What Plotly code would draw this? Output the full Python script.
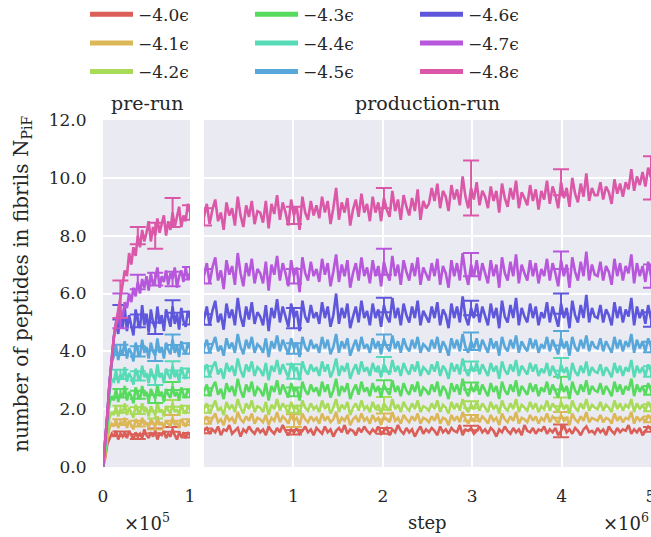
import numpy as np
import plotly.graph_objects as go

labels = ["\u22124.0\u03f5", "\u22124.1\u03f5", "\u22124.2\u03f5", "\u22124.3\u03f5", "\u22124.4\u03f5",
          "\u22124.5\u03f5", "\u22124.6\u03f5", "\u22124.7\u03f5", "\u22124.8\u03f5"]
colors = ["#db5f57", "#dbb757", "#a8db57", "#57db5f", "#57dbb7",
          "#57a7db", "#5f57db", "#b757db", "#db57a7"]

# ---------------- pre-run (0 .. 1e5 steps) ----------------
red_pre = [0,0.3,0.8,1.0,1.15,1.05,1.25,0.95,1.15,1.05,1.20,1.00,1.25,1.10,0.95,1.20,1.05,1.15,1.00,1.30,1.10,1.00,1.20,1.05,1.25,0.95,1.15,1.10,1.25,1.00,1.15,1.05,1.30,1.10,0.95,1.20,1.05,1.15,1.00,1.20,1.10]
orange_pre = [0,0.4,1.0,1.35,1.50,1.40,1.65,1.35,1.55,1.45,1.70,1.35,1.60,1.45,1.30,1.65,1.50,1.40,1.70,1.45,1.55,1.35,1.65,1.50,1.40,1.75,1.45,1.55,1.35,1.60,1.50,1.40,1.70,1.45,1.55,1.35,1.65,1.50,1.40,1.60,1.55]
yg_pre = [0,0.5,1.2,1.7,1.90,1.80,2.10,1.75,2.00,1.85,2.20,1.80,2.05,1.90,1.70,2.15,1.95,1.85,2.20,1.90,2.05,1.75,2.10,1.95,1.80,2.25,1.90,2.00,1.75,2.10,1.95,1.85,2.20,1.90,2.00,1.80,2.15,1.95,1.85,2.10,2.00]
green_pre = [0,0.6,1.5,2.2,2.45,2.30,2.70,2.25,2.55,2.40,2.80,2.30,2.60,2.45,2.20,2.75,2.50,2.35,2.80,2.45,2.60,2.25,2.70,2.50,2.35,2.85,2.45,2.60,2.25,2.70,2.50,2.40,2.80,2.45,2.60,2.30,2.75,2.50,2.40,2.70,2.55]
teal_pre = [0,0.7,1.7,2.6,3.0,2.95,3.35,2.90,3.20,3.05,3.45,2.95,3.25,3.10,2.85,3.40,3.15,3.00,3.50,3.10,3.25,2.90,3.40,3.15,3.00,3.55,3.10,3.25,2.90,3.40,3.20,3.05,3.50,3.10,3.30,2.95,3.45,3.20,3.05,3.40,3.25]
blue_pre = [0,0.8,1.8,2.9,3.6,3.85,4.20,3.70,4.05,3.90,4.35,3.75,4.10,3.95,3.65,4.30,4.00,3.85,4.40,3.95,4.15,3.75,4.30,4.00,3.85,4.45,3.95,4.15,3.75,4.30,4.05,3.90,4.40,3.95,4.20,3.80,4.35,4.05,3.90,4.30,4.10]
indigo_pre = [0,0.8,1.8,2.9,3.8,4.5,5.00,4.60,5.35,4.80,5.50,4.70,5.25,4.95,4.55,5.45,5.05,4.80,5.60,4.90,5.30,4.65,5.45,5.00,4.80,5.55,4.95,5.25,4.70,5.45,5.10,4.85,5.55,4.95,5.30,4.75,5.50,5.05,4.85,5.40,5.15]
purple_pre = [0,0.8,1.8,2.9,3.8,4.5,4.9,5.1,5.4,5.2,5.7,5.5,6.0,5.7,6.2,5.9,6.4,6.0,6.5,6.2,6.6,6.1,6.7,6.3,6.5,6.9,6.2,6.6,6.4,6.8,6.3,6.7,6.5,6.9,6.2,6.6,6.8,6.4,6.9,6.5,6.7]
pink_pre = [0,0.8,1.8,2.9,3.8,4.5,5.0,5.4,5.8,6.3,6.8,6.6,7.4,7.0,7.6,7.3,8.0,7.6,8.2,7.8,8.1,8.5,7.8,8.3,8.0,8.6,8.1,8.4,8.7,8.0,8.5,8.2,8.8,8.3,8.6,9.0,8.3,8.7,8.5,9.1,8.8]

# ---------------- production-run (0 .. 5e6 steps) ----------------
red_prod = [1.25,1.35,1.15,1.30,1.20,1.40,1.10,1.30,1.25,1.45,1.15,1.25,1.35,1.05,1.30,1.20,1.40,1.25,1.15,1.35,
            1.20,1.30,1.10,1.40,1.25,1.15,1.35,1.20,1.45,1.25,1.10,1.30,1.20,1.35,1.15,1.25,1.40,1.20,1.30,1.10,
            1.35,1.25,1.15,1.40,1.20,1.30,1.05,1.25,1.35,1.20,1.45,1.15,1.30,1.25,1.10,1.35,1.20,1.40,1.25,1.15,
            1.30,1.20,1.40,1.15,1.25,1.35,1.10,1.30,1.20,1.45,1.25,1.15,1.35,1.20,1.30,1.05,1.25,1.40,1.15,1.30,
            1.20,1.35,1.25,1.10,1.40,1.20,1.30,1.15,1.35,1.25,1.20,1.45,1.10,1.30,1.25,1.35,1.15,1.25,1.40,1.20,
            1.30,1.15,1.35,1.25,1.05,1.30,1.20,1.40,1.25,1.15,1.35,1.20,1.30,1.10,1.45,1.25,1.20,1.35,1.15,1.30,
            1.25,1.40,1.15,1.30,1.20,1.35,1.10,1.25,1.45,1.20,1.30,1.15,1.35,1.25,1.10,1.30,1.40,1.20,1.25,1.15,
            1.35,1.20,1.30,1.10,1.40,1.25,1.15,1.35,1.20,1.30,1.25,1.45,1.15,1.30,1.20,1.35,1.10,1.25,1.40,1.30]
orange_prod = [1.60,1.75,1.50,1.70,1.85,1.55,1.65,1.45,1.80,1.60,1.70,1.50,1.90,1.65,1.55,1.75,1.60,1.85,1.50,1.70,
               1.65,1.55,1.80,1.45,1.70,1.60,1.90,1.55,1.75,1.65,1.50,1.80,1.60,1.70,1.45,1.85,1.65,1.55,1.75,1.60,
               1.70,1.50,1.85,1.60,1.75,1.55,1.65,1.90,1.50,1.70,1.60,1.80,1.45,1.65,1.75,1.55,1.85,1.60,1.70,1.50,
               1.80,1.60,1.70,1.45,1.75,1.65,1.55,1.90,1.60,1.70,1.50,1.80,1.65,1.55,1.75,1.60,1.85,1.50,1.70,1.65,
               1.55,1.75,1.60,1.85,1.50,1.70,1.65,1.45,1.80,1.60,1.75,1.55,1.90,1.65,1.50,1.70,1.60,1.80,1.55,1.75,
               1.65,1.50,1.80,1.60,1.70,1.45,1.85,1.65,1.55,1.75,1.60,1.90,1.50,1.70,1.65,1.55,1.80,1.60,1.75,1.50,
               1.70,1.60,1.85,1.55,1.75,1.65,1.50,1.80,1.60,1.70,1.45,1.85,1.65,1.55,1.75,1.60,1.90,1.55,1.70,1.65,
               1.60,1.80,1.55,1.70,1.65,1.50,1.85,1.60,1.75,1.55,1.70,1.65,1.90,1.50,1.75,1.60,1.70,1.55,1.80,1.65]
yg_prod = [2.00,2.20,1.85,2.10,2.30,1.95,2.05,1.80,2.25,2.00,2.15,1.90,2.35,2.05,1.85,2.20,2.00,2.30,1.90,2.10,
           2.05,1.90,2.25,1.80,2.15,2.00,2.35,1.95,2.20,2.05,1.85,2.25,2.00,2.10,1.80,2.30,2.05,1.95,2.20,2.00,
           2.10,1.90,2.30,2.00,2.20,1.85,2.05,2.35,1.90,2.15,2.00,2.25,1.80,2.05,2.20,1.95,2.30,2.00,2.10,1.90,
           2.25,2.00,2.15,1.85,2.20,2.05,1.95,2.35,2.00,2.15,1.90,2.25,2.05,1.95,2.20,2.00,2.30,1.90,2.10,2.05,
           1.95,2.20,2.00,2.30,1.90,2.15,2.05,1.85,2.25,2.00,2.20,1.95,2.35,2.05,1.90,2.15,2.00,2.25,1.95,2.20,
           2.05,1.90,2.25,2.00,2.15,1.85,2.30,2.05,1.95,2.20,2.00,2.35,1.90,2.15,2.05,1.95,2.25,2.00,2.20,1.90,
           2.10,2.00,2.30,1.95,2.20,2.05,1.90,2.25,2.00,2.15,1.85,2.30,2.05,1.95,2.20,2.00,2.35,1.95,2.15,2.05,
           2.00,2.25,1.95,2.15,2.05,1.90,2.30,2.00,2.20,1.95,2.15,2.05,2.35,1.90,2.20,2.00,2.15,1.95,2.25,2.05]
green_prod = [2.60,2.85,2.45,2.75,2.95,2.50,2.70,2.35,2.90,2.60,2.80,2.45,3.05,2.65,2.40,2.85,2.60,2.95,2.45,2.75,
              2.65,2.45,2.90,2.30,2.80,2.60,3.00,2.50,2.85,2.65,2.40,2.90,2.60,2.75,2.30,2.95,2.65,2.50,2.85,2.60,
              2.75,2.45,2.95,2.60,2.85,2.40,2.65,3.05,2.45,2.80,2.60,2.90,2.35,2.65,2.85,2.50,2.95,2.60,2.75,2.45,
              2.90,2.60,2.80,2.40,2.85,2.65,2.50,3.00,2.60,2.80,2.45,2.90,2.65,2.50,2.85,2.60,2.95,2.45,2.75,2.65,
              2.50,2.85,2.60,2.95,2.45,2.80,2.65,2.35,2.90,2.60,2.85,2.50,3.05,2.65,2.45,2.80,2.60,2.90,2.50,2.85,
              2.65,2.45,2.90,2.60,2.80,2.35,2.95,2.65,2.50,2.85,2.60,3.00,2.45,2.80,2.65,2.50,2.90,2.60,2.85,2.45,
              2.75,2.60,2.95,2.50,2.85,2.65,2.40,2.90,2.60,2.80,2.35,2.95,2.65,2.50,2.85,2.60,3.00,2.50,2.80,2.65,
              2.60,2.90,2.50,2.80,2.65,2.45,2.95,2.60,2.85,2.50,2.80,2.65,3.05,2.45,2.85,2.60,2.80,2.50,2.90,2.65]
teal_prod = [3.30,3.55,3.15,3.45,3.65,3.20,3.40,3.05,3.60,3.30,3.50,3.15,3.75,3.35,3.10,3.55,3.30,3.65,3.15,3.45,
             3.35,3.15,3.60,3.00,3.50,3.30,3.70,3.20,3.55,3.35,3.10,3.60,3.30,3.45,3.00,3.65,3.35,3.20,3.55,3.30,
             3.45,3.15,3.65,3.30,3.55,3.10,3.35,3.75,3.15,3.50,3.30,3.60,3.05,3.35,3.55,3.20,3.65,3.30,3.45,3.15,
             3.60,3.30,3.50,3.10,3.55,3.35,3.20,3.70,3.30,3.50,3.15,3.60,3.35,3.20,3.55,3.30,3.65,3.15,3.45,3.35,
             3.20,3.55,3.30,3.65,3.15,3.50,3.35,3.05,3.60,3.30,3.55,3.20,3.75,3.35,3.15,3.50,3.30,3.60,3.20,3.55,
             3.35,3.15,3.60,3.30,3.50,3.05,3.65,3.35,3.20,3.55,3.30,3.70,3.15,3.50,3.35,3.20,3.60,3.30,3.55,3.15,
             3.40,3.25,3.60,3.15,3.50,3.30,3.05,3.55,3.25,3.45,3.00,3.60,3.30,3.15,3.50,3.25,3.65,3.15,3.45,3.30,
             3.25,3.55,3.15,3.45,3.30,3.10,3.60,3.25,3.50,3.15,3.45,3.30,3.70,3.10,3.50,3.25,3.45,3.15,3.55,3.30]
blue_prod = [4.10,4.40,3.95,4.25,4.50,4.00,4.20,3.85,4.45,4.10,4.30,3.95,4.60,4.15,3.90,4.40,4.10,4.50,3.95,4.25,
             4.15,3.95,4.45,3.80,4.35,4.10,4.55,4.00,4.40,4.15,3.90,4.45,4.10,4.30,3.80,4.50,4.15,4.00,4.40,4.10,
             4.25,3.95,4.50,4.10,4.40,3.90,4.15,4.60,3.95,4.35,4.10,4.45,3.85,4.15,4.40,4.00,4.50,4.10,4.25,3.95,
             4.45,4.10,4.35,3.90,4.40,4.15,4.00,4.55,4.10,4.35,3.95,4.45,4.15,4.00,4.40,4.10,4.50,3.95,4.25,4.15,
             4.00,4.40,4.10,4.50,3.95,4.35,4.15,3.85,4.45,4.10,4.40,4.00,4.60,4.15,3.95,4.35,4.10,4.45,4.00,4.40,
             4.15,3.95,4.45,4.10,4.35,3.85,4.50,4.15,4.00,4.40,4.10,4.55,3.95,4.35,4.15,4.00,4.45,4.10,4.40,3.95,
             4.25,4.10,4.50,4.00,4.40,4.15,3.90,4.45,4.10,4.35,3.85,4.50,4.15,4.00,4.40,4.10,4.55,4.00,4.35,4.15,
             4.10,4.45,4.00,4.35,4.15,3.95,4.50,4.10,4.40,4.00,4.35,4.15,4.60,3.95,4.40,4.10,4.35,4.00,4.45,4.15]
indigo_prod = [5.10,5.55,4.90,5.40,5.75,5.00,5.30,4.75,5.65,5.15,5.45,4.90,5.85,5.20,4.85,5.55,5.10,5.70,4.95,5.35,
               5.20,4.90,5.60,4.70,5.50,5.15,5.80,5.00,5.55,5.20,4.85,5.65,5.15,5.40,4.70,5.75,5.20,5.00,5.60,5.15,
               5.35,4.95,5.70,5.15,5.55,4.85,5.25,6.00,4.95,5.50,5.15,5.65,4.80,5.20,5.55,5.00,5.75,5.15,5.40,4.90,
               5.65,5.15,5.45,4.85,5.60,5.20,5.00,5.85,5.15,5.50,4.90,5.65,5.25,5.00,5.55,5.15,5.75,4.90,5.40,5.20,
               5.00,5.55,5.15,5.70,4.90,5.45,5.25,4.80,5.65,5.15,5.55,5.00,5.90,5.20,4.90,5.50,5.15,5.65,5.00,5.55,
               5.20,4.90,5.65,5.15,5.50,4.80,5.75,5.20,5.00,5.60,5.15,5.85,4.90,5.50,5.20,5.00,5.65,5.15,5.55,4.90,
               5.35,5.15,5.70,5.00,5.55,5.20,4.85,5.65,5.15,5.50,4.80,5.75,5.25,5.00,5.60,5.15,5.95,5.00,5.50,5.20,
               5.15,5.60,5.00,5.45,5.25,4.90,5.70,5.15,5.55,5.00,5.45,5.20,5.85,4.90,5.55,5.15,5.45,4.95,5.60,5.10]
purple_prod = [6.60,7.05,6.35,6.90,7.25,6.45,6.80,6.15,7.15,6.65,6.95,6.30,7.40,6.70,6.25,7.05,6.60,7.20,6.35,6.85,
               6.70,6.35,7.10,6.10,7.00,6.65,7.30,6.45,7.05,6.70,6.25,7.15,6.60,6.90,6.05,7.25,6.70,6.45,7.10,6.60,
               6.85,6.40,7.20,6.65,7.05,6.25,6.75,7.35,6.40,7.00,6.60,7.15,6.20,6.70,7.05,6.45,7.25,6.60,6.90,6.35,
               7.15,6.60,6.95,6.25,7.10,6.70,6.45,7.30,6.60,7.00,6.30,7.15,6.75,6.45,7.05,6.60,7.25,6.30,6.90,6.65,
               6.45,7.05,6.60,7.20,6.30,6.95,6.70,6.20,7.15,6.60,7.05,6.45,7.40,6.70,6.30,7.00,6.60,7.15,6.45,7.05,
               6.70,6.35,7.15,6.60,7.00,6.20,7.25,6.70,6.45,7.10,6.60,7.35,6.35,7.00,6.70,6.45,7.15,6.60,7.05,6.35,
               6.85,6.60,7.20,6.45,7.05,6.70,6.25,7.15,6.60,7.00,6.20,7.25,6.75,6.45,7.10,6.60,7.45,6.45,7.00,6.65,
               6.60,7.10,6.45,6.95,6.75,6.30,7.20,6.60,7.05,6.45,6.95,6.70,7.35,6.35,7.05,6.60,6.95,6.40,7.10,6.60]
pink_prod = [8.65,9.10,8.40,8.90,9.25,8.50,8.80,8.20,9.15,8.70,8.95,8.35,9.35,8.70,8.30,9.05,8.65,9.20,8.40,8.85,
             8.80,8.45,9.20,8.25,9.10,8.75,9.40,8.55,9.15,8.80,8.35,9.25,8.70,9.00,8.20,9.35,8.80,8.55,9.20,8.70,
             9.05,8.60,9.35,8.80,9.20,8.40,8.95,9.65,8.55,9.15,8.80,9.30,8.35,8.90,9.25,8.65,9.45,8.80,9.10,8.50,
             9.35,8.80,9.15,8.50,9.30,8.90,8.65,9.55,8.85,9.25,8.55,9.40,9.00,8.70,9.30,8.85,9.60,8.55,9.20,8.95,
             9.10,9.65,9.20,9.80,8.95,9.55,9.35,8.85,9.75,9.25,9.60,9.05,10.05,9.35,8.95,9.65,9.25,9.85,9.05,9.55,
             9.35,8.95,9.70,9.20,9.55,8.80,9.80,9.30,9.00,9.65,9.25,9.90,8.95,9.50,9.30,9.05,9.75,9.20,9.60,8.90,
             9.55,9.25,9.90,9.10,9.70,9.40,8.95,9.85,9.30,9.65,9.00,10.00,9.45,9.15,9.80,9.35,10.15,9.20,9.65,9.40,
             9.40,9.85,9.25,9.70,9.50,9.10,9.95,9.45,9.80,9.35,9.85,9.60,10.30,9.55,10.05,9.75,10.20,9.70,10.35,10.00]

# error bars (std) at selected steps
pre_err_steps = [2e4, 4e4, 6e4, 8e4, 1e5]
prod_err_steps = [0, 1e6, 2e6, 3e6, 4e6, 5e6]
pre_err = [
    [0.08, 0.08, 0.08, 0.08, 0.08],
    [0.10, 0.10, 0.10, 0.10, 0.10],
    [0.12, 0.12, 0.12, 0.12, 0.12],
    [0.15, 0.14, 0.14, 0.14, 0.14],
    [0.16, 0.16, 0.16, 0.16, 0.16],
    [0.18, 0.18, 0.18, 0.18, 0.18],
    [0.25, 0.22, 0.20, 0.22, 0.22],
    [0.60, 0.25, 0.22, 0.25, 0.22],
    [0.65, 0.30, 0.45, 0.50, 0.25],
]
prod_err = [
    [0.08, 0.08, 0.10, 0.08, 0.22, 0.08],
    [0.10, 0.22, 0.10, 0.10, 0.10, 0.10],
    [0.12, 0.12, 0.22, 0.12, 0.15, 0.12],
    [0.12, 0.15, 0.15, 0.12, 0.22, 0.15],
    [0.18, 0.25, 0.25, 0.15, 0.22, 0.18],
    [0.15, 0.18, 0.18, 0.30, 0.25, 0.18],
    [0.18, 0.35, 0.25, 0.25, 0.35, 0.25],
    [0.25, 0.25, 0.45, 0.40, 0.30, 0.40],
    [0.30, 0.30, 0.35, 0.95, 0.45, 0.75],
]

pre_series = [red_pre, orange_pre, yg_pre, green_pre, teal_pre, blue_pre, indigo_pre, purple_pre, pink_pre]
prod_series = [red_prod, orange_prod, yg_prod, green_prod, teal_prod, blue_prod, indigo_prod, purple_prod, pink_prod]

FONT = "DejaVu Serif"
TXT = "#262626"
W, H = 651, 537
FS = 17

fig = go.Figure()

for i in range(9):
    c = colors[i]
    ypre = pre_series[i]
    xpre = np.linspace(0, 1e5, len(ypre))
    yprod = prod_series[i]
    xprod = np.linspace(0, 5e6, len(yprod))

    fig.add_trace(go.Scatter(x=xpre, y=ypre, mode="lines", line=dict(color=c, width=2.6),
                             xaxis="x", yaxis="y", showlegend=False, hoverinfo="skip"))
    idx = [int(round(s / 1e5 * (len(ypre) - 1))) for s in pre_err_steps]
    fig.add_trace(go.Scatter(x=[xpre[k] for k in idx], y=[ypre[k] for k in idx], mode="markers",
                             marker=dict(size=1, color="rgba(0,0,0,0)"),
                             error_y=dict(type="data", array=pre_err[i], color=c, thickness=2, width=8),
                             xaxis="x", yaxis="y", showlegend=False, hoverinfo="skip"))

    fig.add_trace(go.Scatter(x=xprod, y=yprod, mode="lines", line=dict(color=c, width=2.6),
                             xaxis="x2", yaxis="y2", showlegend=False, hoverinfo="skip"))
    idx = [int(round(s / 5e6 * (len(yprod) - 1))) for s in prod_err_steps]
    fig.add_trace(go.Scatter(x=[xprod[k] for k in idx], y=[yprod[k] for k in idx], mode="markers",
                             marker=dict(size=1, color="rgba(0,0,0,0)"),
                             error_y=dict(type="data", array=prod_err[i], color=c, thickness=2, width=8),
                             xaxis="x2", yaxis="y2", showlegend=False, hoverinfo="skip"))

# legend entries (three columns)
for i in range(9):
    leg = ["legend", "legend2", "legend3"][i // 3]
    fig.add_trace(go.Scatter(x=[None], y=[None], mode="lines", name=labels[i], legendgroup="g%d" % i,
                             line=dict(color=colors[i], width=5), xaxis="x2", yaxis="y2",
                             legend=leg, showlegend=True))

ydom = [1 - 467 / H, 1 - 120 / H]
tickfont = dict(family=FONT, size=FS, color=TXT)
common_axis = dict(showline=False, zeroline=False, gridcolor="white", gridwidth=2,
                   automargin=False, tickfont=tickfont)
legfont = dict(family=FONT, size=FS, color=TXT)
legcommon = dict(font=legfont, bgcolor="rgba(0,0,0,0)", yanchor="top", xanchor="left",
                 orientation="v", tracegroupgap=3.5, itemwidth=43)


def ann(text, x, y, size, **kw):
    d = dict(text=text, x=x / W, y=1 - y / H, xref="paper", yref="paper", showarrow=False,
             xanchor="center", yanchor="middle", font=dict(family=FONT, size=size, color=TXT))
    d.update(kw)
    return d


fig.update_layout(
    width=W, height=H,
    margin=dict(l=0, r=0, t=0, b=0, autoexpand=False),
    paper_bgcolor="white",
    plot_bgcolor="#eaeaf2",
    font=dict(family=FONT, color=TXT),
    xaxis=dict(domain=[103 / W, 190 / W], range=[0, 1e5], tickvals=[0, 1e5], ticktext=["0", "1"],
               showgrid=False, ticks="outside", ticklen=14, tickcolor="rgba(0,0,0,0)",
               ticklabeloverflow="allow", **common_axis),
    xaxis2=dict(domain=[204 / W, 1.0], range=[0, 5e6], tickvals=[1e6, 2e6, 3e6, 4e6, 5e6],
                ticktext=["1", "2", "3", "4", "5"], showgrid=True, anchor="y2",
                ticks="outside", ticklen=14, tickcolor="rgba(0,0,0,0)",
                ticklabeloverflow="allow", **common_axis),
    yaxis=dict(domain=ydom, range=[0, 12], tickvals=[0, 2, 4, 6, 8, 10, 12],
               ticktext=["0.0", "2.0", "4.0", "6.0", "8.0", "10.0", "12.0"], showgrid=True,
               ticks="outside", ticklen=12, tickcolor="rgba(0,0,0,0)", **common_axis),
    yaxis2=dict(domain=ydom, range=[0, 12], tickvals=[0, 2, 4, 6, 8, 10, 12], showticklabels=False,
                showgrid=True, anchor="x2", **common_axis),
    legend=dict(x=85 / W, y=1.006, **legcommon),
    legend2=dict(x=250 / W, y=1.006, **legcommon),
    legend3=dict(x=415 / W, y=1.006, **legcommon),
    annotations=[
        ann("pre-run", 147, 103, 19),
        ann("production-run", 427, 103, 19),
        ann("\u00d710<sup>5</sup>", 147, 522, 18),
        ann("step", 427, 522, 18),
        ann("\u00d710<sup>6</sup>", 651, 522, 18, xanchor="right"),
        ann("number of peptides in fibrils N<sub>PiF</sub>", 22, 284, 20, textangle=-90),
    ],
)

fig.write_html("out.html", config={"displayModeBar": False},
               post_script="document.body.style.margin='0px';")
